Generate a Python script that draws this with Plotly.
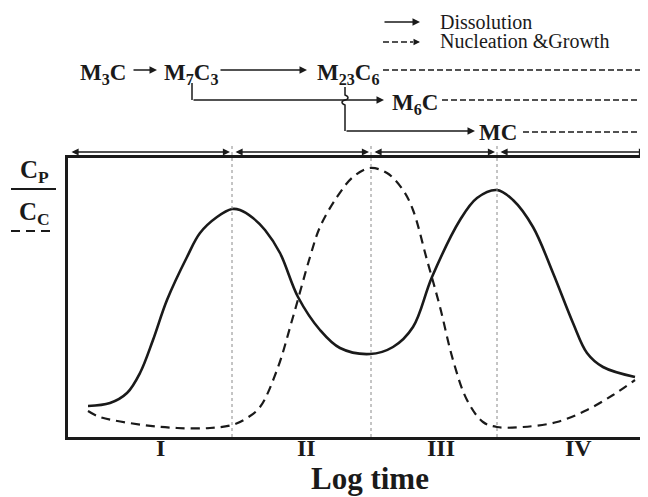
import plotly.graph_objects as go

# ---------------- data (arbitrary units) ----------------
x_solid = [2.0, 4.2, 5.9, 7.2, 8.5, 9.9, 11.9, 13.2, 14.9, 16.4, 17.2, 18.5, 19.7, 21.2, 23.0,
           25.2, 27.2, 30.2, 32.5, 34.5, 36.4, 39.2, 40.9, 42.9, 44.5, 46.5, 48.5,
           50.5, 51.9, 53.5, 56.7]
y_solid = [3.1, 3.4, 4.4, 6.4, 9.7, 13.7, 18.0, 20.4, 22.0, 22.8, 22.7, 21.9, 20.7, 18.4, 14.0,
           10.7, 8.9, 8.3, 9.0, 11.0, 16.0, 21.7, 23.9, 24.7, 23.7, 21.0, 16.4,
           11.4, 8.4, 7.0, 6.0]

x_dash = [2.0, 3.2, 7.5, 10.9, 14.2, 16.4, 17.9, 19.2, 20.9, 22.5, 24.2, 25.2, 26.9,
          28.5, 30.2, 31.9, 33.5, 34.5, 35.9, 37.2, 38.5, 39.9, 41.5, 42.9, 45.5,
          48.9, 51.9, 54.5, 56.7]
y_dash = [2.6, 2.0, 1.2, 0.9, 0.9, 1.2, 1.9, 3.0, 6.7, 12.0, 18.0, 21.0, 24.0,
          26.0, 26.9, 26.4, 24.7, 22.7, 17.7, 13.0, 7.7, 3.7, 1.5, 1.0, 1.0,
          1.5, 2.7, 4.2, 5.7]

stage_bounds = [0, 16.4, 30.3, 42.9, 58]
stage_labels = ["I", "II", "III", "IV"]
stage_label_pos = [9.2, 23.8, 37.3, 51.0]

x_range = [0, 58]
y_range = [0, 27.9]

# ---------------- layout helpers ----------------
OFF = 8                     # page body margin of the browser
W, H = 648 - OFF, 497 - OFF
L, R, T, B = 68, 648, 158, 437   # plot area edges in reference pixels
SERIF = "Liberation Serif, Times New Roman, serif"
INK = "#1a1a1a"


def px(xp):
    return (xp - L) / (R - L)


def py(yp):
    return (B - yp) / (B - T)


def dx(v):
    return (v - x_range[0]) / (x_range[1] - x_range[0])


fig = go.Figure()
fig.add_trace(go.Scatter(x=x_solid, y=y_solid, mode="lines",
                         line=dict(color=INK, width=2.6, shape="spline", smoothing=1.0),
                         hoverinfo="skip", showlegend=False))
fig.add_trace(go.Scatter(x=x_dash, y=y_dash, mode="lines",
                         line=dict(color=INK, width=2.2, dash="9px,6px", shape="spline", smoothing=1.0),
                         hoverinfo="skip", showlegend=False))

shapes = []
annotations = []

# dotted stage dividers
for b in stage_bounds[1:-1]:
    shapes.append(dict(type="line", xref="paper", yref="paper", x0=dx(b), x1=dx(b),
                       y0=0, y1=py(143), line=dict(color="#8a8a8a", width=1, dash="dot")))

# double-headed range arrows on top
for i in range(len(stage_bounds) - 1):
    s, e = stage_bounds[i] + 0.2, stage_bounds[i + 1] - 0.2
    annotations.append(dict(x=e, ax=s, xref="x", axref="x", y=py(152), yref="paper",
                            ay=0, ayref="pixel", text="", showarrow=True,
                            arrowside="end+start", arrowhead=2, arrowsize=1.1,
                            arrowwidth=1.3, arrowcolor=INK, standoff=0, startstandoff=0))

# stage numerals under the axis
for pos, lab in zip(stage_label_pos, stage_labels):
    annotations.append(dict(x=pos, xref="x", y=py(448), yref="paper", text=f"<b>{lab}</b>",
                            showarrow=False, xanchor="center", yanchor="middle",
                            font=dict(family=SERIF, size=24, color=INK)))


def arrow(x0, y0, x1, y1, width=1.5):
    annotations.append(dict(x=px(x1), y=py(y1), xref="paper", yref="paper",
                            ax=x0 - x1, ay=y0 - y1, axref="pixel", ayref="pixel",
                            text="", showarrow=True, arrowhead=2, arrowsize=1,
                            arrowwidth=width, arrowcolor=INK, standoff=0))


def line(x0, y0, x1, y1, dash=None, width=1.5):
    ln = dict(color=INK, width=width)
    if dash:
        ln["dash"] = dash
    shapes.append(dict(type="line", xref="paper", yref="paper", x0=px(x0), x1=px(x1),
                       y0=py(y0), y1=py(y1), line=ln))


def dashed_arrow(x0, y, x1):
    line(x0, y, x1 - 7, y, dash="6px,3px", width=1.3)
    arrow(x1 - 7, y, x1, y, width=1.3)


def text(x, y, s, size, bold=True, anchor="left"):
    annotations.append(dict(x=px(x), y=py(y), xref="paper", yref="paper",
                            text=(f"<b>{s}</b>" if bold else s), showarrow=False,
                            xanchor=anchor, yanchor="middle",
                            font=dict(family=SERIF, size=size, color=INK)))


# legend of the scheme
arrow(383, 22, 420, 22)
text(438, 22, "Dissolution", 20, bold=False)
dashed_arrow(383, 42, 420)
text(438, 41, "Nucleation &amp;Growth", 20, bold=False)

# reaction scheme
text(78, 74, "M<sub>3</sub>C", 23)
arrow(132, 70, 157, 70)
text(162, 74, "M<sub>7</sub>C<sub>3</sub>", 23)
arrow(219, 70, 307, 70)
text(315, 74, "M<sub>23</sub>C<sub>6</sub>", 23)
dashed_arrow(383, 70, 647)

line(192, 83, 192, 100)
arrow(192, 100, 384, 100)
text(390, 104, "M<sub>6</sub>C", 23)
dashed_arrow(442, 100, 647)

path = (f"M {px(345)},{py(87)} L {px(345)},{py(95)} "
        f"C {px(349)},{py(96.5)} {px(349)},{py(99)} {px(345)},{py(100)} "
        f"C {px(341)},{py(101)} {px(341)},{py(103.5)} {px(345)},{py(105)} "
        f"L {px(345)},{py(131)}")
shapes.append(dict(type="path", xref="paper", yref="paper", path=path,
                   line=dict(color=INK, width=1.5)))
arrow(345, 131, 475, 131)
text(477, 132, "MC", 23)
dashed_arrow(523, 132, 647)

# y-axis label (Cp solid, Cc dashed)
text(34, 171, "C<sub>P</sub>", 25, anchor="center")
line(11, 189, 56, 189, width=2.2)
text(34, 213, "C<sub>C</sub>", 25, anchor="center")
line(11, 231, 53, 231, dash="9px,6px", width=2.2)

# x title
text(370, 478, "Log time", 31, anchor="center")

fig.update_layout(
    width=W, height=H,
    margin=dict(l=L - OFF, r=648 - R, t=T - OFF, b=497 - B),
    paper_bgcolor="white", plot_bgcolor="white",
    shapes=shapes, annotations=annotations,
    xaxis=dict(range=x_range, showgrid=False, zeroline=False, showline=True,
               linewidth=3, linecolor=INK, mirror=True, ticks="", showticklabels=False),
    yaxis=dict(range=y_range, showgrid=False, zeroline=False, showline=True,
               linewidth=3, linecolor=INK, showticklabels=False, ticks=""),
    showlegend=False,
)

fig.write_html("out.html")
